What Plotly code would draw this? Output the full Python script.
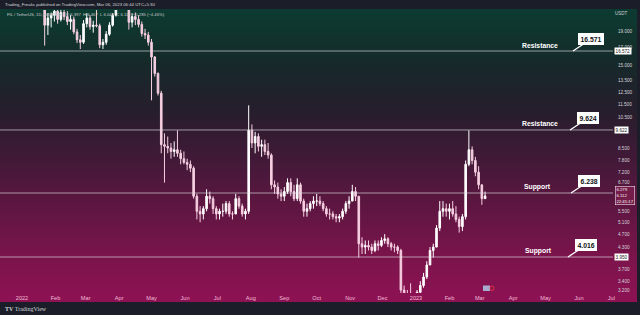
import math
import pandas as pd
import plotly.graph_objects as go

# ---------------- data (FIL / USDT, 3-day candles) ----------------
first_open = 25.0
high = [25.5, 24.2, 21.5, 21.6, 23.0, 22.5, 22.8, 22.5, 21.8, 21.2, 21.0, 19.3, 18.5, 20.5, 21.5, 21.2, 20.4, 22.0,
        20.0, 18.0, 19.0, 20.2, 21.5, 24.5, 26.0, 29.0, 28.5, 25.0, 21.5, 21.6, 21.2, 20.3, 19.3, 18.9,
        18.0, 16.0, 14.3, 12.6, 9.4, 9.2, 8.8, 8.9, 9.6, 8.4, 8.3, 7.9, 7.8, 7.5, 6.2, 5.7, 5.7, 6.4, 6.3,
        6.1, 5.7, 5.6, 5.8, 5.9, 5.9, 5.5, 6.2, 6.1, 5.8, 5.6, 11.4, 10.0, 9.5, 9.4, 9.0, 9.0, 8.8, 8.2,
        6.8, 6.7, 6.4, 6.5, 6.9, 6.9, 6.6, 6.9, 6.7, 6.0, 5.8, 5.9, 6.1, 6.2, 6.1, 5.9, 5.7, 5.6, 5.5,
        5.4, 5.4, 5.6, 5.9, 6.1, 6.6, 6.5, 6.1, 4.6, 4.5, 4.5, 4.4, 4.5, 4.5, 4.6, 4.7, 4.6, 4.45, 4.4,
        4.35, 4.25, 3.3, 3.2, 3.35, 3.1, 3.2, 3.4, 3.6, 3.9, 4.3, 4.4, 5.0, 5.9, 5.9, 5.8, 5.8, 5.9, 5.7,
        5.3, 5.4, 7.8, 9.6, 8.6, 8.0, 7.5, 6.6, 6.3]
low = [23.5, 17.2, 18.5, 19.5, 20.3, 20.0, 20.3, 20.5, 19.8, 19.2, 18.6, 17.5, 16.8, 17.4, 19.5, 19.2, 18.8, 19.5,
       16.9, 16.8, 17.3, 18.4, 19.6, 21.0, 23.5, 25.0, 24.0, 19.2, 19.5, 19.8, 19.5, 18.3, 18.0, 17.2,
       11.8, 13.9, 12.2, 8.2, 6.7, 8.2, 7.9, 8.0, 8.0, 7.6, 7.6, 7.3, 7.2, 6.0, 5.2, 5.1, 5.2, 5.5, 5.8,
       5.4, 5.2, 5.2, 5.3, 5.4, 5.3, 5.2, 5.5, 5.6, 5.3, 5.2, 5.4, 8.5, 8.2, 8.3, 8.0, 8.1, 7.9, 6.4,
       6.2, 6.0, 5.9, 5.9, 6.2, 6.1, 5.9, 5.9, 5.8, 5.3, 5.3, 5.5, 5.6, 5.7, 5.7, 5.5, 5.3, 5.2, 5.2,
       5.1, 5.1, 5.2, 5.4, 5.6, 5.9, 5.9, 4.0, 4.1, 4.1, 4.2, 4.1, 4.15, 4.2, 4.3, 4.4, 4.3, 4.2, 4.15,
       4.1, 3.1, 3.0, 2.9, 2.9, 2.7, 2.9, 3.1, 3.25, 3.45, 3.8, 4.0, 4.3, 4.8, 5.3, 5.3, 5.2, 5.3, 5.1,
       4.75, 4.8, 5.2, 7.5, 7.6, 7.0, 6.4, 5.75, 6.0]
close = [24.0, 19.8, 20.8, 21.2, 21.8, 20.6, 21.6, 21.0, 20.3, 20.6, 18.9, 17.9, 17.6, 20.0, 20.8, 19.6, 19.8, 19.7,
         17.3, 17.6, 18.6, 19.8, 21.2, 24.0, 25.5, 28.0, 24.8, 20.2, 21.0, 20.6, 19.9, 18.7, 18.5, 17.6,
         15.9, 14.2, 12.4, 8.7, 8.6, 8.5, 8.3, 8.4, 8.2, 7.9, 7.7, 7.6, 7.4, 6.1, 5.5, 5.4, 5.6, 6.1, 6.0,
         5.6, 5.4, 5.5, 5.5, 5.8, 5.4, 5.4, 6.0, 5.7, 5.4, 5.5, 9.6, 8.8, 9.2, 8.6, 8.7, 8.3, 8.1, 6.6,
         6.5, 6.2, 6.1, 6.3, 6.7, 6.3, 6.0, 6.6, 5.9, 5.5, 5.6, 5.8, 5.9, 5.9, 5.8, 5.6, 5.4, 5.4, 5.3,
         5.25, 5.3, 5.5, 5.8, 5.9, 6.3, 6.1, 4.4, 4.3, 4.35, 4.3, 4.2, 4.4, 4.35, 4.5, 4.55, 4.4, 4.3, 4.3,
         4.2, 3.2, 3.1, 3.0, 3.0, 2.9, 3.15, 3.3, 3.5, 3.8, 4.2, 4.3, 4.9, 5.5, 5.6, 5.5, 5.6, 5.4, 5.2,
         4.95, 5.3, 7.6, 8.4, 7.8, 7.2, 6.6, 6.0, 6.11]
opens = [first_open] + close[:-1]
dates = pd.date_range("2022-01-19", periods=len(close), freq="3D")

levels = [16.571, 9.624, 6.238, 4.016]
level_names = ["Resistance", "Resistance", "Support", "Support"]
axis_level_tags = ["16.572", "9.622", None, "3.950"]

y_ticks = [19, 17, 15, 13.5, 12.5, 11.5, 10.5, 8.5, 7.8, 7.2, 6.7, 5.5, 5.1, 4.7, 4.3, 3.7, 3.4, 3.2]
month_ticks = pd.date_range("2022-01-01", "2023-07-01", freq="MS")
month_text = [("2022" if d.year == 2022 else "2023") if d.month == 1 else d.strftime("%b") for d in month_ticks]

x_range = ["2021-12-11 15:00", "2023-07-02 12:00"]
y_range = [0.4962, 1.3419]

# ---------------- figure ----------------
W, H = 640, 315
ML, MR, MT, MB = 0, 27, 10, 22
PW, PH = W - ML - MR, H - MT - MB


def px_x(x):
    return (x - ML) / PW


def px_y(y):
    return (H - MB - y) / PH


fig = go.Figure()

# S/R levels as lines
for lv in levels:
    fig.add_trace(go.Scatter(x=x_range, y=[lv, lv], mode="lines",
                             line=dict(color="rgba(225,225,230,0.8)", width=0.8),
                             hoverinfo="skip", showlegend=False))

fig.add_trace(go.Candlestick(
    x=dates, open=opens, high=high, low=low, close=close,
    increasing=dict(line=dict(color="#ffffff", width=1), fillcolor="#ffffff"),
    decreasing=dict(line=dict(color="#f6cfe1", width=1), fillcolor="#f6cfe1"),
    whiskerwidth=0, showlegend=False))

# gradient background built from thin strips
stops = [(9, (12, 60, 49)), (60, (21, 42, 42)), (110, (38, 30, 44)), (160, (66, 25, 56)),
         (210, (96, 22, 66)), (260, (124, 20, 76)), (302, (142, 18, 84))]


def col_at(y):
    for (y0, c0), (y1, c1) in zip(stops[:-1], stops[1:]):
        if y0 <= y <= y1:
            t = (y - y0) / (y1 - y0)
            return "rgb(%d,%d,%d)" % tuple(round(a + (b - a) * t) for a, b in zip(c0, c1))
    return "rgb(%d,%d,%d)" % stops[-1][1]


shapes = []
y = 9
while y < 302:
    y2 = min(y + 2, 302)
    shapes.append(dict(type="rect", xref="paper", yref="paper", x0=px_x(0), x1=px_x(637),
                       y0=px_y(y2), y1=px_y(y), fillcolor=col_at((y + y2) / 2), line=dict(width=0),
                       layer="below"))
    y = y2
# small events icon
shapes.append(dict(type="rect", xref="paper", yref="paper", x0=px_x(483), x1=px_x(490), y0=px_y(291),
                   y1=px_y(285.5), fillcolor="rgba(170,180,215,0.95)", line=dict(width=0)))
shapes.append(dict(type="circle", xref="paper", yref="paper", x0=px_x(490), x1=px_x(494), y0=px_y(290.5),
                   y1=px_y(286), fillcolor="rgba(0,0,0,0)", line=dict(color="#e0303a", width=1)))

ann = []
# header texts
ann.append(dict(xref="paper", yref="paper", x=px_x(3), y=px_y(4.5), xanchor="left", yanchor="middle",
                text="Trading_Freaks published on TradingView.com, Mar 06, 2023 06:44 UTC+5:30",
                showarrow=False, font=dict(size=4.3, color="#d8d8dc", family="Liberation Sans")))
ann.append(dict(xref="paper", yref="paper", x=px_x(5), y=px_y(14.5), xanchor="left", yanchor="middle",
                text="FIL / TetherUS, 1D, BINANCE   O 6.397  H 6.467  L 6.043  C 6.112  \u22120.285 (\u22124.46%)",
                showarrow=False, font=dict(size=4.2, color="#c8ccd0", family="Liberation Sans")))
ann.append(dict(xref="paper", yref="paper", x=px_x(621), y=px_y(14), xanchor="center", yanchor="middle",
                text="USDT", showarrow=False, font=dict(size=4.5, color="#d0d0d8", family="Liberation Sans")))
ann.append(dict(xref="paper", yref="paper", x=px_x(3), y=px_y(309), xanchor="left", yanchor="middle",
                text="<b>TV</b> TradingView", showarrow=False,
                font=dict(size=6, color="#d0d2d8", family="Liberation Serif")))

# level labels and callouts
label_x = [540, 540, 537, 538]
tip_x = [573, 570, 571, 568]
for lv, name, lx, tx, tag in zip(levels, level_names, label_x, tip_x, axis_level_tags):
    ly = math.log10(lv)
    ann.append(dict(xref="paper", yref="y", x=px_x(lx), y=ly, yshift=6, xanchor="center", yanchor="middle",
                    text="<b>%s</b>" % name, showarrow=False,
                    font=dict(size=6.8, color="#ffffff", family="Liberation Sans")))
    ann.append(dict(xref="paper", yref="y", x=px_x(tx), y=ly, ax=18, ay=-12, text="<b>%.3f</b>" % lv,
                    showarrow=True, arrowhead=0, arrowwidth=1.3, arrowcolor="#ffffff",
                    bgcolor="#ffffff", bordercolor="#ffffff", borderpad=1.5,
                    font=dict(size=6.8, color="#111111", family="Liberation Sans")))
    if tag:
        ann.append(dict(xref="paper", yref="y", x=px_x(613.5), y=ly, xanchor="left", yanchor="middle",
                        text=tag, showarrow=False, bgcolor="#ffffff", borderpad=0.6,
                        font=dict(size=4.6, color="#222222", family="Liberation Sans")))

# last price box
ann.append(dict(xref="paper", yref="paper", x=px_x(614.5), y=px_y(195), xanchor="left", yanchor="middle",
                text="6.279<br>6.112<br>22:45:17", showarrow=False, align="left",
                bgcolor="rgba(120,30,75,0.9)", bordercolor="#f0e0ea", borderwidth=0.6, borderpad=0.8,
                font=dict(size=4.3, color="#f4f4f4", family="Liberation Sans")))

fig.update_layout(
    width=W, height=H,
    margin=dict(l=ML, r=MR, t=MT, b=MB, pad=0),
    paper_bgcolor="#1b1e28", plot_bgcolor="rgba(0,0,0,0)",
    shapes=shapes, annotations=ann, showlegend=False,
    xaxis=dict(type="date", range=x_range, rangeslider=dict(visible=False),
               tickvals=list(month_ticks), ticktext=month_text,
               tickfont=dict(size=5.6, color="#f2bcd6", family="Liberation Sans"),
               showgrid=False, zeroline=False, showline=False, ticks="", ticklen=0),
    yaxis=dict(type="log", range=y_range, side="right",
               tickvals=y_ticks, ticktext=["%.3f" % v for v in y_ticks],
               tickfont=dict(size=4.6, color="#d8d4dc", family="Liberation Sans"),
               showgrid=False, zeroline=False, showline=False, ticks="", ticklabelstandoff=4),
)

fig.write_html("out.html")
